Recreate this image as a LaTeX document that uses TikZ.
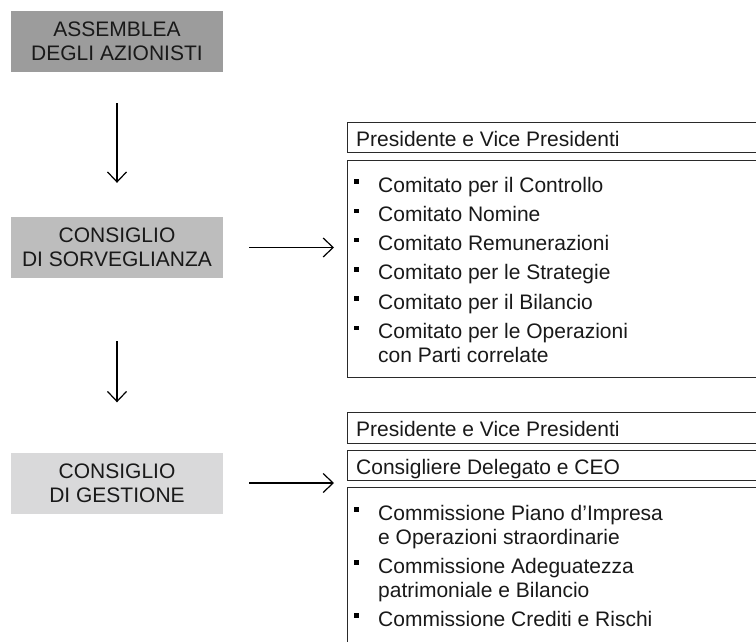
\documentclass[tikz,border=0pt]{standalone}
\usepackage{fontspec}
\setmainfont{Liberation Sans}
\usetikzlibrary{arrows.meta}
\definecolor{gA}{HTML}{9C9C9C}
\definecolor{gB}{HTML}{BDBDBD}
\definecolor{gC}{HTML}{D9D9DA}
\definecolor{frame}{HTML}{2A2A2A}
\tikzset{
  graybox/.style={minimum width=212pt, minimum height=61pt, inner sep=0pt, align=center,
    font=\fontsize{21pt}{24pt}\selectfont, text=black!90},
  rbox/.style={draw=frame, line width=1pt, inner sep=0pt, anchor=north west, minimum width=460pt},
  txt/.style={anchor=base west, inner sep=0pt, font=\fontsize{21pt}{24pt}\selectfont, text=black!90},
  bul/.style={fill=black, minimum size=4.6pt, inner sep=0pt},
  arr/.style={draw=black, line width=1.2pt, -{Straight Barb[length=10pt, width=19pt, line width=1.2pt]}}
}
\begin{document}
\begin{tikzpicture}[x=1pt, y=-1pt]
\useasboundingbox (0,0) rectangle (756,641);
\clip (0,0) rectangle (756,641);
% left column
\node[graybox, fill=gA] (asm) at (117,41.5) {ASSEMBLEA\\DEGLI AZIONISTI};
\node[graybox, fill=gB] (sorv) at (117,247.5) {CONSIGLIO\\DI SORVEGLIANZA};
\node[graybox, fill=gC] (gest) at (117,483) {CONSIGLIO\\DI GESTIONE};
% right boxes (upper)
\node[rbox, minimum height=30pt] (pres1) at (347,122) {};
\node[rbox, minimum height=217pt] (list1) at (347,160) {};
% right boxes (lower)
\node[rbox, minimum height=31pt] (pres2) at (347,412) {};
\node[rbox, minimum height=30pt] (ceo) at (347,450) {};
\node[rbox, minimum height=200pt] (list2) at (347,487) {};
% tips of horizontal arrows
\coordinate (tipx) at (334,0);
% arrows
\draw[arr] ([yshift=-31pt]asm.south) -- ([yshift=34pt]sorv.north);
\draw[arr] ([yshift=-63pt]sorv.south) -- ([yshift=50pt]gest.north);
\draw[arr] ([xshift=26pt]sorv.east) -- (sorv.east -| tipx);
\draw[arr] ([xshift=26pt]gest.east) -- (gest.east -| tipx);
% texts upper
\node[txt] (t1) at (356,146) {Presidente e Vice Presidenti};
\node[txt] (u1) at (378,192) {Comitato per il Controllo};
\node[txt] (u2) at (378,221.3) {Comitato Nomine};
\node[txt] (u3) at (378,250.6) {Comitato Remunerazioni};
\node[txt] (u4) at (378,279.9) {Comitato per le Strategie};
\node[txt] (u5) at (378,309.2) {Comitato per il Bilancio};
\node[txt] (u6) at (378,338.5) {Comitato per le Operazioni};
\node[txt] (u7) at (378,362.5) {con Parti correlate};
\foreach \n/\y in {b1/192,b2/221.3,b3/250.6,b4/279.9,b5/309.2,b6/338.5}
  \node[bul] (\n) at (356.2,\y-10.5) {};
% texts lower
\node[txt] (t2) at (356,436) {Presidente e Vice Presidenti};
\node[txt] (t3) at (356,474) {Consigliere Delegato e CEO};
\node[txt] (l1) at (378,520) {Commissione Piano d’Impresa};
\node[txt] (l2) at (378,544) {e Operazioni straordinarie};
\node[txt] (l3) at (378,573) {Commissione Adeguatezza};
\node[txt] (l4) at (378,597) {patrimoniale e Bilancio};
\node[txt] (l5) at (378,626) {Commissione Crediti e Rischi};
\foreach \n/\y in {c1/520,c2/573,c3/626}
  \node[bul] (\n) at (356.2,\y-10.5) {};
\end{tikzpicture}
\end{document}
